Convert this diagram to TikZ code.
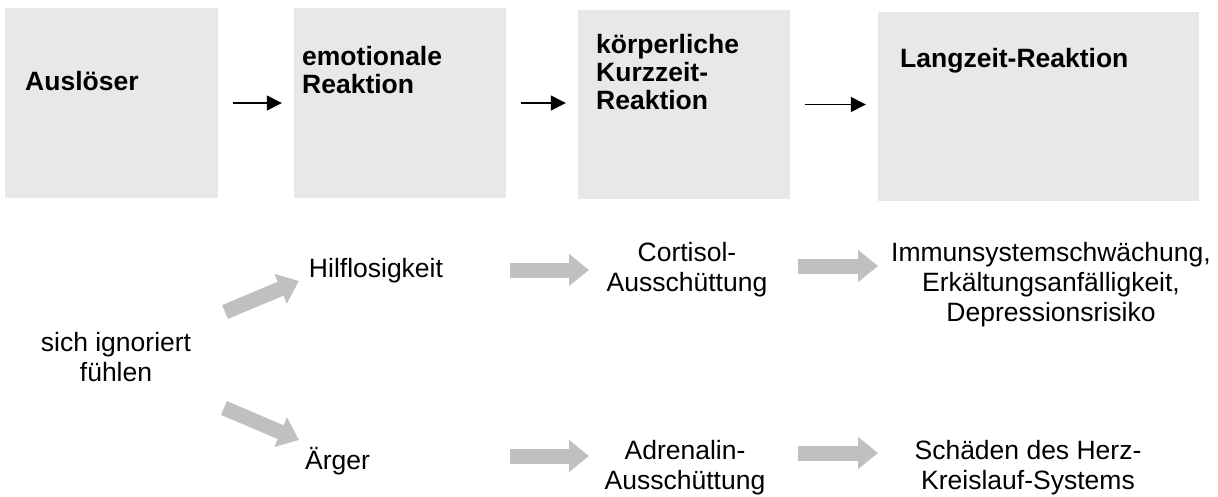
\documentclass[tikz,border=0pt]{standalone}
\usepackage{fontspec}
\setmainfont{Liberation Sans}
\usetikzlibrary{arrows.meta}
\definecolor{kastengrau}{RGB}{232,232,232}
\definecolor{pfeilgrau}{RGB}{192,192,192}
\tikzset{
  kasten/.style={fill=kastengrau, inner sep=0pt},
  kopf/.style={font=\fontsize{26.5}{28}\selectfont\bfseries, inner sep=0pt, align=left},
  eintrag/.style={font=\fontsize{26.5}{30}\selectfont, inner sep=0pt, align=center},
  pfeil/.style={line width=1.3pt, -{Triangle[length=15pt,width=15pt]}, shorten <=15pt, shorten >=12pt},
  blockpfeil/.style={pfeilgrau, line width=15pt, -{Triangle[length=20pt,width=31pt]}}
}
\begin{document}
\begin{tikzpicture}[x=1pt,y=-1pt]
  \useasboundingbox (0,0) rectangle (1218,496);
  %KAESTEN
  \node[kasten, minimum width=213pt, minimum height=190pt] (ausloeser) at (111.5,103) {};
  \node[kasten, minimum width=212pt, minimum height=190pt] (emotion) at (400,103) {};
  \node[kasten, minimum width=212pt, minimum height=189pt] (koerper) at (684,104.5) {};
  \node[kasten, minimum width=321pt, minimum height=189pt] (langzeit) at (1038.5,106.5) {};
  %UEBERSCHRIFTEN
  \node[kopf, anchor=base west] (tAusl) at (25,90) {Auslöser};
  \node[kopf, anchor=north west] (tEmo) at (302,46) {emotionale\\Reaktion};
  \node[kopf, anchor=north west] (tKoerp) at (596,34) {körperliche\\Kurzzeit-\\Reaktion};
  \node[kopf, anchor=base west] (tLang) at (900,67) {Langzeit-Reaktion};
  \draw[pfeil] (ausloeser) -- (ausloeser -| emotion.west);
  \draw[pfeil] (emotion) -- (emotion -| koerper.west);
  \draw[pfeil] (koerper) -- (koerper -| langzeit.west);

  %BEISPIEL
  \node[eintrag, anchor=north] (sich) at (116,332) {sich ignoriert\\fühlen};
  \node[eintrag, anchor=base] (hilf) at (376,277) {Hilflosigkeit};
  \node[eintrag, anchor=base] (aerger) at (337.5,469) {Ärger};
  \node[eintrag, anchor=north] (cort) at (687,242) {Cortisol-\\Ausschüttung};
  \node[eintrag, anchor=north] (immun) at (1051,242) {Immunsystemschwächung,\\Erkältungsanfälligkeit,\\Depressionsrisiko};
  \node[eintrag, anchor=north] (adren) at (685,440) {Adrenalin-\\Ausschüttung};
  \node[eintrag, anchor=north] (herz) at (1028,440) {Schäden des Herz-\\Kreislauf-Systems};

  %GRAUE PFEILE
  \coordinate (d1a) at (225,312);
  \coordinate (d1b) at (299,281);
  \coordinate (d2a) at (224,408);
  \coordinate (d2b) at (299,440);
  \coordinate (h1a) at (510,270);
  \coordinate (h1b) at (589,270);
  \coordinate (h2a) at (510,456);
  \coordinate (h2b) at (589,456);
  \coordinate (h3a) at (798,266);
  \coordinate (h3b) at (878,266);
  \coordinate (h4a) at (798,453);
  \coordinate (h4b) at (878,453);
  \draw[blockpfeil] (d1a) -- (d1b);
  \draw[blockpfeil] (d2a) -- (d2b);
  \draw[blockpfeil] (h1a) -- (h1b);
  \draw[blockpfeil] (h2a) -- (h2b);
  \draw[blockpfeil] (h3a) -- (h3b);
  \draw[blockpfeil] (h4a) -- (h4b);
\end{tikzpicture}
\end{document}
